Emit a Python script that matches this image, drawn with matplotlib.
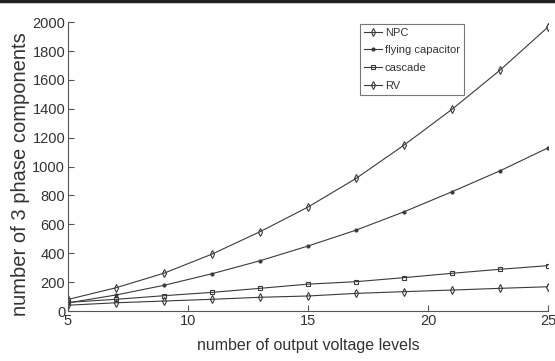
import matplotlib.pyplot as plt

levels = [5, 7, 9, 11, 13, 15, 17, 19, 21, 23, 25]

npc = [80, 161, 262, 394, 549, 720, 918, 1149, 1397, 1668, 1967]
flying_cap = [56, 111, 178, 258, 348, 450, 560, 687, 826, 971, 1130]
cascade = [60, 81, 106, 129, 157, 186, 203, 231, 261, 289, 314]
rv = [40, 57, 69, 81, 95, 104, 122, 134, 145, 157, 168]

plt.rcParams['font.family'] = ['Liberation Sans', 'DejaVu Sans']

fig = plt.figure(figsize=(5.55, 3.61), dpi=100)
ax = fig.add_axes([0.1225, 0.1385, 0.865, 0.8])

c = '#3a3a3a'
ax.plot(levels, npc, color=c, lw=0.8, marker='d', ms=4, mfc='none', mew=0.8, label='NPC')
ax.plot(levels, flying_cap, color=c, lw=0.8, marker='.', ms=4, label='flying capacitor')
ax.plot(levels, cascade, color=c, lw=0.8, marker='s', ms=3.5, mfc='none', mew=0.8, label='cascade')
ax.plot(levels, rv, color=c, lw=0.8, marker='d', ms=4, mfc='none', mew=0.8, label='RV')

ax.set_xlim(5, 25)
ax.set_ylim(0, 2000)
ax.set_xticks([5, 10, 15, 20, 25])
ax.set_yticks(range(0, 2001, 200))
ax.spines['top'].set_visible(False)
ax.spines['right'].set_visible(False)
for s in ('left', 'bottom'):
    ax.spines[s].set_color('#555555')
    ax.spines[s].set_linewidth(0.8)
ax.tick_params(direction='in', length=4, width=0.8, colors='#555555',
               labelcolor='#333333', labelsize=10.5, pad=2)

ax.set_xlabel('number of output voltage levels', fontsize=11.5, color='#333333', labelpad=7)
ax.set_ylabel('number of 3 phase components', fontsize=14.5, color='#333333')
ax.yaxis.set_label_coords(-0.08, 0.475)

leg = ax.legend(loc='upper left', bbox_to_anchor=(0.608, 0.995), fontsize=8,
                frameon=True, fancybox=False, handlelength=1.6, handletextpad=0.3,
                borderpad=0.35, labelspacing=0.7, borderaxespad=0)
leg.get_frame().set_edgecolor('#555555')
leg.get_frame().set_linewidth(0.8)
for t in leg.get_texts():
    t.set_color('#333333')

# dark band along the top edge of the scanned figure
fig.add_artist(plt.Line2D([0, 1], [0.996, 0.996], transform=fig.transFigure,
                          color='#222222', lw=2.5))

fig.savefig('out.png', dpi=100)
